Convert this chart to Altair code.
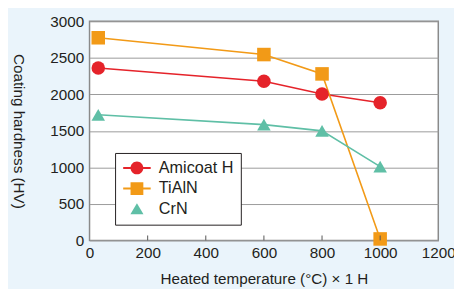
import altair as alt
import pandas as pd

temps = [30, 600, 800, 1000]
amicoat = [2360, 2180, 2005, 1885]
tialn = [2775, 2545, 2280, 20]
crn = [1720, 1585, 1500, 1010]
series = ["Amicoat H", "TiAlN", "CrN"]
colors = ["#e5232a", "#f29a17", "#5fbfa6"]
shapes = ["circle", "square", "triangle-up"]
x_ticks = [0, 200, 400, 600, 800, 1000, 1200]
y_ticks = [0, 500, 1000, 1500, 2000, 2500, 3000]
inner_ticks = [200, 400, 600, 800, 1000]

rows = []
for name, vals in zip(series, [amicoat, tialn, crn]):
    for t, v in zip(temps, vals):
        rows.append({"series": name, "temp": t, "hv": v})
df = pd.DataFrame(rows)

W, H = 355, 223
FONT = "Liberation Sans"

xs = alt.Scale(domain=[0, 1200], nice=False)
ys = alt.Scale(domain=[0, 3000], nice=False)
cs = alt.Scale(domain=series, range=colors)

x_axis = alt.Axis(values=x_ticks, title="Heated temperature (°C) × 1 H", format="d",
                  grid=False, domain=False, ticks=False, labelPadding=5, titlePadding=11,
                  labelFontSize=15.5, titleFontSize=15.5, labelFont=FONT, titleFont=FONT,
                  labelColor="#231f20", titleColor="#231f20", titleFontWeight="normal",
                  labelFlush=False, labelOverlap=False)
y_axis = alt.Axis(values=y_ticks, title="Coating hardness (HV)", format="d",
                  grid=True, gridColor="#9a9a9a", gridWidth=1, domain=False, ticks=False,
                  labelPadding=6, titlePadding=40, titleAngle=90,
                  labelFontSize=15.5, titleFontSize=15.5, labelFont=FONT, titleFont=FONT,
                  labelColor="#231f20", titleColor="#231f20", titleFontWeight="normal",
                  labelOverlap=False)

x_enc = alt.X("temp:Q", scale=xs, axis=x_axis)
y_enc = alt.Y("hv:Q", scale=ys, axis=y_axis)

lines = alt.Chart(df).mark_line(strokeWidth=1.6).encode(
    x=x_enc, y=y_enc,
    color=alt.Color("series:N", scale=cs, legend=None),
    detail="series:N",
)

points = alt.Chart(df).mark_point(filled=True, opacity=1, size=190).encode(
    x=x_enc, y=y_enc,
    color=alt.Color("series:N", scale=cs, legend=None),
    shape=alt.Shape("series:N", scale=alt.Scale(domain=series, range=shapes), legend=None),
)

leg_paths = [
    "M-2,-0.14H2V0.14H-2Z M0.93,0 A0.93,0.93 0 1,1 -0.93,0 A0.93,0.93 0 1,1 0.93,0 Z",
    "M-2,-0.14H2V0.14H-2Z M-0.93,-0.93H0.93V0.93H-0.93Z",
    "M0,-0.85L0.95,0.72L-0.95,0.72Z",
]
legend_df = pd.DataFrame({"key": series})
legend_layer = alt.Chart(legend_df).mark_point(filled=True, opacity=1, size=196).encode(
    x=alt.value(-100), y=alt.value(-100),
    color=alt.Color("key:N", scale=alt.Scale(domain=series, range=colors),
                    legend=alt.Legend(title=None, orient="none", legendX=26, legendY=134,
                                      padding=7, symbolOffset=7, labelOffset=14,
                                      rowPadding=4, strokeColor="#231f20", fillColor="#ffffff",
                                      labelFontSize=16.5, labelFont=FONT, labelColor="#231f20",
                                      symbolSize=196, symbolStrokeWidth=0, symbolOpacity=1)),
    shape=alt.Shape("key:N", scale=alt.Scale(domain=series, range=leg_paths), legend=alt.Legend(title=None)),
).transform_filter("false")

ticks_df = pd.DataFrame({"t": inner_ticks})
tick_layer = alt.Chart(ticks_df).mark_rule(color="#555555", strokeWidth=1).encode(
    x=alt.X("t:Q", scale=xs, axis=x_axis), y=alt.value(H), y2=alt.value(H - 5)
)

chart = alt.layer(lines, points, tick_layer, legend_layer).resolve_scale(
    color="independent", shape="independent"
).properties(
    width=W, height=H,
    autosize=alt.AutoSizeParams(type="none"),
    padding={"left": 83, "top": 11, "right": 16, "bottom": 52},
    background="#eaf4fb",
).configure_view(stroke="#8a8a8a", strokeWidth=1.5, fill="#ffffff")

chart.save("out.html", embed_options={"renderer": "svg", "actions": False})
